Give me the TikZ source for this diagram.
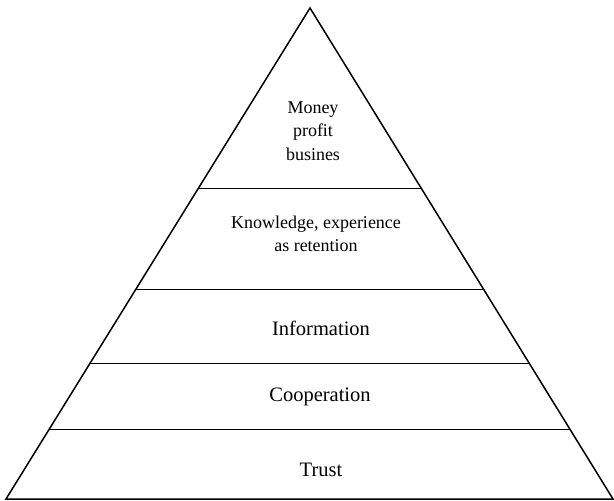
\documentclass[tikz,border=0pt]{standalone}
\usepackage{fontspec}
\setmainfont{Liberation Serif}
\usetikzlibrary{calc}
\tikzset{
  edge/.style={line width=1.5pt, line join=miter},
  level/.style={align=center, inner sep=0pt},
  big/.style={font=\fontsize{20.5}{24}\selectfont},
  small/.style={font=\fontsize{18}{23.3}\selectfont}
}
\begin{document}
\begin{tikzpicture}[x=1pt, y=-1pt]
  \useasboundingbox (0,0) rectangle (614,501);
  % outline of the pyramid
  \coordinate (apex) at (310,8);
  \coordinate (bl) at (6,499);
  \coordinate (br) at (613,499);
  \draw[edge] (bl) -- (apex) -- (br) -- cycle;
  % dividing lines between the levels
  \foreach \y/\n in {188.5/a, 289.5/b, 363.5/c, 429.5/d} {
    \pgfmathsetmacro{\t}{(499-\y)/491}
    \coordinate (l\n) at ($(bl)!\t!(apex)$);
    \coordinate (r\n) at ($(br)!\t!(apex)$);
    \draw[edge] (l\n) -- (r\n);
  }
  % level labels (base anchor sits on the last line's baseline)
  \node[level, small, anchor=base] (top) at (313,160) {Money\\profit\\busines};
  \node[level, small, anchor=base] (knowledge) at (316,251.5) {Knowledge, experience\\as retention};
  \node[level, big, anchor=base] (info) at (321,335) {Information};
  \node[level, big, anchor=base] (coop) at (320,401) {Cooperation};
  \node[level, big, anchor=base] (trust) at (321,476) {Trust};
\end{tikzpicture}
\end{document}
